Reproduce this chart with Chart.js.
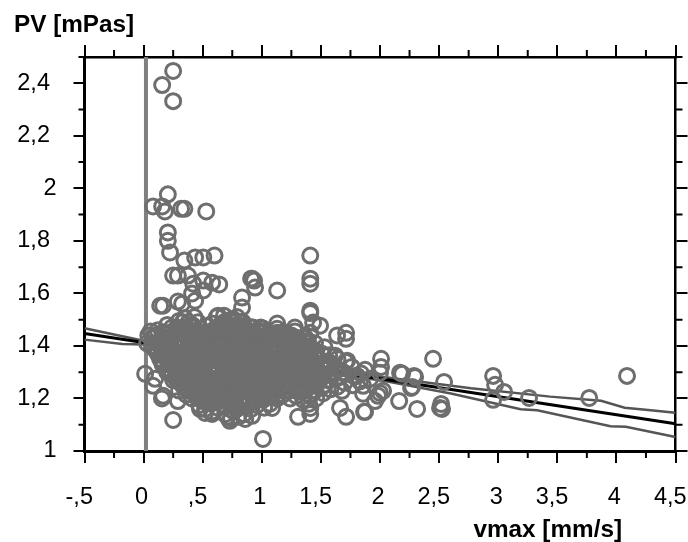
<!DOCTYPE html>
<html>
<head>
<meta charset="utf-8">
<style>
html, body { margin: 0; padding: 0; background: #fff; }
canvas { display: block; }
</style>
<script src="https://cdn.jsdelivr.net/npm/chart.js@4"></script>
</head>
<body>
<canvas id="chart-pv" width="688" height="542"></canvas>
<script>
// eixos
const xTickLabels = ['-,5', '0', ',5', '1', '1,5', '2', '2,5', '3', '3,5', '4', '4,5'];
const yTickLabels = ['1', '1,2', '1,4', '1,6', '1,8', '2', '2,2', '2,4'];
const xMinorTicks = [-0.25, 0.25, 0.75, 1.25, 1.75, 2.25, 2.75, 3.25, 3.75, 4.25];
const yMinorTicks = [1.1, 1.3, 1.5, 1.7, 1.9, 2.1, 2.3, 2.5];

// pontos soltos, fora da nuvem
const soltosVmax = [
    .25, .157, .25, .205, .08, .157, .18, .317, .345, .53,
    .205, .205, .224, .345, .436, .505, .6, 1.41,
    .25, .29, .376, .42, .505, .58, .64, .505, .41, .436, .14, .165, .29, .326,
    .833, .91, .935, .943, .63, .833,
    1.41, 1.41, 1.41, 1.41, 1.13, .917, 1.713, 1.713, 1.637, 1.13, 1.01, 1.28, 1.493, 1.434,
    .013, .097, .08, .165, .155, .25, .29, .477, .52, .58, .73, .86, .71,
    1.01, 1.307, 1.41, 1.41, 1.662, 1.713, 1.865, 1.087, .918,
    2.449, 2.009, 2.009, 2.0, 2.17, 2.187, 2.288, 2.263, 2.542, 1.874, 1.857, 1.857, 1.874,
    1.984, 2.0, 2.026, 1.958, 2.162, 2.314, 2.517, 2.508, 2.525, 1.62, 1.722, 1.679, 1.806, 1.916,
    2.957, 2.974, 3.05, 2.957, 3.261, 3.77, 4.09, 2.297, 2.272
];
const soltosPV = [
    2.447, 2.393, 2.332, 1.977, 1.931, 1.931, 1.912, 1.922, 1.922, 1.912,
    1.832, 1.8, 1.756, 1.725, 1.737, 1.737, 1.744, 1.744,
    1.668, 1.668, 1.668, 1.637, 1.649, 1.641, 1.634, 1.611, 1.6, 1.572, 1.553, 1.553, 1.569, 1.561,
    1.584, 1.656, 1.649, 1.622, 1.515, 1.546,
    1.656, 1.637, 1.534, 1.525, 1.611, 1.656, 1.45, 1.427, 1.44, 1.485, 1.466, 1.47, 1.477, 1.489,
    1.294, 1.275, 1.248, 1.21, 1.2, 1.118, 1.19, 1.16, 1.145, 1.141, 1.115, 1.122, 1.13,
    1.046, 1.13, 1.141, 1.164, 1.164, 1.13, 1.149, 1.164, 1.134,
    1.351, 1.351, 1.32, 1.298, 1.298, 1.294, 1.286, 1.24, 1.263, 1.309, 1.248, 1.218, 1.149,
    1.21, 1.221, 1.229, 1.19, 1.19, 1.16, 1.179, 1.164, 1.16, 1.363, 1.344, 1.229, 1.286, 1.275,
    1.286, 1.252, 1.225, 1.195, 1.202, 1.202, 1.286, 1.282, 1.244
];

// nuvem densa (estimada, uma linha por faixa de vmax)
const nuvemVmax = [
    .03, .04,
    .07, .08, .06,
    .11, .12, .10, .12,
    .16, .15, .17, .15, .16,
    .20, .21, .19, .20, .21, .19, .20,
    .25, .24, .26, .25, .24, .26, .25, .24,
    .30, .31, .29, .30, .31, .29, .30, .31, .29, .30,
    .36, .35, .37, .36, .35, .37, .36, .35, .37, .36, .35,
    .41, .42, .40, .41, .43, .40, .42, .41, .40, .42, .41, .43,
    .47, .46, .48, .47, .46, .48, .47, .49, .46, .47, .48, .46,
    .52, .53, .51, .52, .54, .51, .53, .52, .51, .53, .52, .54,
    .58, .57, .59, .58, .57, .59, .58, .57, .59, .58, .57, .59, .58,
    .63, .64, .62, .63, .65, .62, .64, .63, .62, .64, .63, .65, .62,
    .69, .68, .70, .69, .68, .70, .69, .68, .70, .69, .68, .70, .69, .68,
    .74, .75, .73, .74, .76, .73, .75, .74, .73, .75, .74, .76, .73, .74,
    .80, .79, .81, .80, .79, .81, .80, .79, .81, .80, .79, .81, .80, .79,
    .85, .86, .84, .85, .87, .84, .86, .85, .84, .86, .85, .87, .84,
    .91, .90, .92, .91, .90, .92, .91, .90, .92, .91, .90, .92,
    .96, .97, .95, .96, .98, .95, .97, .96, .95, .97, .96,
    1.02, 1.01, 1.03, 1.02, 1.01, 1.03, 1.02, 1.01, 1.03, 1.02, 1.01,
    1.07, 1.08, 1.06, 1.07, 1.09, 1.06, 1.08, 1.07, 1.06, 1.08,
    1.13, 1.12, 1.14, 1.13, 1.12, 1.14, 1.13, 1.12, 1.14, 1.13,
    1.18, 1.19, 1.17, 1.18, 1.20, 1.17, 1.19, 1.18, 1.17,
    1.24, 1.23, 1.25, 1.24, 1.23, 1.25, 1.24, 1.23, 1.25,
    1.29, 1.30, 1.28, 1.29, 1.31, 1.28, 1.30, 1.29, 1.28,
    1.35, 1.34, 1.36, 1.35, 1.34, 1.36, 1.35, 1.34, 1.36,
    1.40, 1.41, 1.39, 1.40, 1.42, 1.39, 1.41, 1.40, 1.39, 1.41,
    1.46, 1.45, 1.47, 1.46, 1.45, 1.47, 1.46, 1.45,
    1.52, 1.53, 1.51, 1.52, 1.54, 1.51, 1.53,
    1.58, 1.57, 1.59, 1.58, 1.57,
    1.64, 1.65, 1.63, 1.64,
    1.70, 1.69, 1.71,
    1.77, 1.78, 1.76,
    1.83, 1.84
];
const nuvemPV = [
    1.41, 1.44,
    1.40, 1.43, 1.455,
    1.385, 1.41, 1.44, 1.46,
    1.33, 1.365, 1.39, 1.42, 1.45,
    1.30, 1.33, 1.36, 1.385, 1.42, 1.445, 1.48,
    1.27, 1.295, 1.325, 1.355, 1.38, 1.41, 1.44, 1.47,
    1.23, 1.26, 1.285, 1.315, 1.345, 1.37, 1.40, 1.43, 1.46, 1.495,
    1.215, 1.245, 1.27, 1.30, 1.33, 1.355, 1.385, 1.415, 1.445, 1.47, 1.505,
    1.20, 1.225, 1.255, 1.285, 1.31, 1.34, 1.37, 1.40, 1.425, 1.455, 1.48, 1.51,
    1.175, 1.205, 1.235, 1.265, 1.295, 1.325, 1.35, 1.38, 1.41, 1.44, 1.465, 1.49,
    1.16, 1.19, 1.22, 1.25, 1.275, 1.305, 1.335, 1.36, 1.39, 1.42, 1.45, 1.475,
    1.15, 1.18, 1.205, 1.235, 1.265, 1.29, 1.32, 1.35, 1.375, 1.405, 1.435, 1.46, 1.485,
    1.165, 1.195, 1.22, 1.25, 1.28, 1.31, 1.34, 1.365, 1.395, 1.425, 1.45, 1.48, 1.51,
    1.14, 1.17, 1.20, 1.23, 1.26, 1.285, 1.315, 1.345, 1.37, 1.40, 1.43, 1.46, 1.49, 1.515,
    1.125, 1.155, 1.185, 1.215, 1.245, 1.27, 1.30, 1.33, 1.36, 1.385, 1.415, 1.445, 1.475, 1.50,
    1.13, 1.16, 1.19, 1.22, 1.25, 1.28, 1.31, 1.34, 1.365, 1.395, 1.425, 1.455, 1.48, 1.51,
    1.14, 1.17, 1.20, 1.23, 1.26, 1.29, 1.315, 1.345, 1.375, 1.405, 1.435, 1.46, 1.49,
    1.16, 1.19, 1.215, 1.245, 1.275, 1.30, 1.33, 1.36, 1.39, 1.415, 1.445, 1.47,
    1.175, 1.205, 1.235, 1.265, 1.29, 1.32, 1.35, 1.38, 1.41, 1.435, 1.46,
    1.165, 1.195, 1.225, 1.255, 1.285, 1.31, 1.34, 1.37, 1.40, 1.425, 1.455,
    1.18, 1.21, 1.24, 1.27, 1.30, 1.33, 1.355, 1.385, 1.415, 1.445,
    1.20, 1.23, 1.26, 1.29, 1.315, 1.345, 1.375, 1.405, 1.435, 1.465,
    1.215, 1.245, 1.275, 1.305, 1.335, 1.365, 1.395, 1.425, 1.45,
    1.20, 1.23, 1.26, 1.29, 1.32, 1.35, 1.38, 1.41, 1.44,
    1.21, 1.24, 1.27, 1.30, 1.33, 1.36, 1.39, 1.42, 1.455,
    1.195, 1.225, 1.255, 1.285, 1.315, 1.345, 1.375, 1.405, 1.435,
    1.18, 1.21, 1.24, 1.27, 1.30, 1.33, 1.36, 1.39, 1.42, 1.45,
    1.20, 1.23, 1.26, 1.29, 1.32, 1.35, 1.38, 1.41,
    1.22, 1.25, 1.28, 1.31, 1.34, 1.37, 1.395,
    1.235, 1.27, 1.30, 1.335, 1.365,
    1.245, 1.28, 1.315, 1.35,
    1.26, 1.30, 1.34,
    1.25, 1.285, 1.32,
    1.265, 1.295
];

// miolo da nuvem, onde os círculos se fundem: um valor de PV por linha de vmax
const mioloPV = [1.19, 1.21, 1.23, 1.25, 1.27, 1.29, 1.31, 1.33, 1.35, 1.37, 1.39, 1.41, 1.43, 1.45, 1.47, 1.49];
const mioloVmax = [
    [.50, .56, .63, .70, .77, .84, .90],
    [.44, .50, .57, .64, .71, .78, .85, .92, .99, 1.06, 1.13],
    [.38, .45, .52, .59, .66, .73, .80, .87, .94, 1.01, 1.08, 1.15, 1.22, 1.29, 1.36, 1.43],
    [.33, .40, .47, .54, .61, .68, .75, .82, .89, .96, 1.03, 1.10, 1.17, 1.24, 1.31, 1.38, 1.45, 1.52],
    [.28, .36, .43, .50, .57, .65, .72, .79, .86, .93, 1.00, 1.07, 1.14, 1.21, 1.28, 1.35, 1.42, 1.49, 1.56],
    [.24, .31, .39, .46, .53, .60, .67, .74, .81, .88, .95, 1.02, 1.09, 1.16, 1.23, 1.30, 1.37, 1.44, 1.51, 1.58],
    [.20, .27, .34, .42, .49, .56, .63, .70, .77, .84, .91, .98, 1.05, 1.12, 1.19, 1.26, 1.33, 1.40, 1.47, 1.54],
    [.17, .24, .31, .38, .45, .52, .59, .66, .73, .80, .87, .94, 1.01, 1.08, 1.15, 1.22, 1.29, 1.36, 1.43, 1.50, 1.57],
    [.14, .21, .28, .35, .42, .49, .56, .63, .70, .77, .84, .91, .98, 1.05, 1.12, 1.19, 1.26, 1.33, 1.40, 1.47],
    [.12, .19, .26, .33, .40, .47, .54, .61, .68, .75, .82, .89, .96, 1.03, 1.10, 1.17, 1.24, 1.31, 1.38, 1.45],
    [.09, .16, .23, .30, .37, .44, .51, .58, .65, .72, .79, .86, .93, 1.00, 1.07, 1.14, 1.21, 1.28, 1.35, 1.42],
    [.13, .20, .27, .34, .41, .48, .55, .62, .69, .76, .83, .90, .97, 1.04, 1.11, 1.18, 1.25, 1.32, 1.39],
    [.17, .24, .31, .38, .45, .52, .59, .66, .73, .80, .87, .94, 1.01, 1.08, 1.15, 1.22, 1.30, 1.37],
    [.22, .29, .36, .43, .50, .57, .64, .71, .78, .85, .92, .99, 1.06, 1.13, 1.20],
    [.28, .35, .42, .64, .71, .78, .85, .92, .99],
    [.33, .38, .68, .75, .82]
];

// reta de regressão e limites
const retaVmax = [-0.5, 4.5];
const retaPV = [1.447, 1.104];
const superiorVmax = [-0.5, 0, .5, 1, 1.5, 2.03, 2.77, 3.44, 3.87, 4.07, 4.29, 4.5];
const superiorPV = [1.467, 1.42, 1.39, 1.355, 1.32, 1.282, 1.239, 1.207, 1.191, 1.165, 1.155, 1.146];
const inferiorVmax = [-0.5, -0.18, 0, .5, 1, 1.5, 2.03, 2.6, 3.19, 3.33, 3.95, 4.08, 4.5];
const inferiorPV = [1.424, 1.407, 1.405, 1.37, 1.335, 1.30, 1.267, 1.219, 1.159, 1.155, 1.094, 1.092, 1.053];

// linha vertical em zero
const zeroVmax = [0.02, 0.02];
const zeroPV = [1, 2.5];

function pares(xs, ys){
    return xs.map(function(v, i){ return {x: v, y: ys[i]}; });
}

function paresMiolo(){
    const saida = [];
    for(let i = 0; i < mioloPV.length; ++i){
        for(let j = 0; j < mioloVmax[i].length; ++j){
            saida.push({x: mioloVmax[i][j], y: mioloPV[i]});
        }
    }
    return saida;
}

// só a vírgula leva espaço no fim, como no original
function rotulo(texto){
    return texto.includes(',') ? texto + ' ' : texto;
}

// tamanho fixo do eixo, sem a folga automática dos rótulos
function fixarLargura(valor){
    return function(scale){
        scale.width = valor;
        scale.paddingTop = 0;
        scale.paddingBottom = 0;
    };
}

function fixarAltura(valor){
    return function(scale){
        scale.height = valor;
        scale.paddingLeft = 0;
        scale.paddingRight = 0;
    };
}

// ticks menores e títulos dos eixos
const extras = {
    id: 'extras',
    afterDraw: function(chart){
        const ctx = chart.ctx;
        const a = chart.chartArea;
        const sx = chart.scales.x;
        const sy = chart.scales.y;
        ctx.save();
        ctx.strokeStyle = '#000';
        ctx.lineWidth = 2;
        ctx.beginPath();
        xMinorTicks.forEach(function(v){
            const p = sx.getPixelForValue(v);
            ctx.moveTo(p, a.bottom); ctx.lineTo(p, a.bottom + 7);
            ctx.moveTo(p, a.top); ctx.lineTo(p, a.top - 7);
        });
        yMinorTicks.forEach(function(v){
            const p = sy.getPixelForValue(v);
            ctx.moveTo(a.left, p); ctx.lineTo(a.left - 6, p);
            ctx.moveTo(a.right, p); ctx.lineTo(a.right + 7, p);
        });
        ctx.stroke();
        ctx.fillStyle = '#000';
        ctx.font = 'bold 24.3px "Liberation Sans"';
        ctx.textBaseline = 'alphabetic';
        ctx.textAlign = 'left';
        ctx.fillText('PV [mPas]', 14, 32);
        ctx.textAlign = 'right';
        ctx.fillText('vmax [mm/s]', 622, 537);
        ctx.restore();
    }
};

const fonteEixo = {family: '"Liberation Sans"', size: 23.5};

var chartPV = new Chart(document.getElementById('chart-pv').getContext('2d'), {
    type: 'scatter',
    data: {
        datasets: [
            {
                data: pares(soltosVmax.concat(nuvemVmax), soltosPV.concat(nuvemPV)).concat(paresMiolo()),
                borderColor: '#6e6e6e',
                backgroundColor: 'transparent',
                pointRadius: 7.5,
                pointBorderWidth: 3,
                order: 1
            },
            {
                data: pares(retaVmax, retaPV),
                showLine: true, borderColor: '#000', borderWidth: 3, pointRadius: 0, order: 2
            },
            {
                data: pares(superiorVmax, superiorPV),
                showLine: true, borderColor: '#555', borderWidth: 2.5, pointRadius: 0, order: 3
            },
            {
                data: pares(inferiorVmax, inferiorPV),
                showLine: true, borderColor: '#555', borderWidth: 2.5, pointRadius: 0, order: 3
            },
            {
                data: pares(zeroVmax, zeroPV),
                showLine: true, borderColor: '#808080', borderWidth: 4, pointRadius: 0, order: 4
            }
        ]
    },
    options: {
        responsive: false,
        animation: false,
        devicePixelRatio: 1,
        layout: {padding: 0},
        plugins: {
            legend: {display: false},
            title: {display: false},
            tooltip: {enabled: false}
        },
        scales: {
            x: {
                type: 'linear',
                position: 'bottom',
                min: -0.5,
                max: 4.5,
                afterFit: fixarAltura(91),
                border: {color: '#000', width: 3},
                grid: {drawOnChartArea: false, color: '#000', lineWidth: 2, tickLength: 12},
                ticks: {
                    stepSize: 0.5,
                    autoSkip: false,
                    maxRotation: 0,
                    padding: 20,
                    labelOffset: -2,
                    color: '#000',
                    font: fonteEixo,
                    callback: function(v, i){ return rotulo(xTickLabels[i]); }
                }
            },
            xTopo: {
                type: 'linear',
                position: 'top',
                min: -0.5,
                max: 4.5,
                afterFit: fixarAltura(57),
                border: {color: '#000', width: 2.5},
                grid: {drawOnChartArea: false, color: '#000', lineWidth: 2, tickLength: 12},
                ticks: {stepSize: 0.5, autoSkip: false, maxRotation: 0, padding: 0, callback: function(){ return ''; }}
            },
            y: {
                type: 'linear',
                position: 'left',
                min: 1,
                max: 2.5,
                afterFit: fixarLargura(84.5),
                border: {color: '#000', width: 3},
                grid: {drawOnChartArea: false, color: '#000', lineWidth: 2, tickLength: 11},
                ticks: {
                    stepSize: 0.2,
                    includeBounds: false,
                    autoSkip: false,
                    padding: 17,
                    color: '#000',
                    font: fonteEixo,
                    callback: function(v, i){ return rotulo(yTickLabels[i]); }
                }
            },
            yDireita: {
                type: 'linear',
                position: 'right',
                min: 1,
                max: 2.5,
                afterFit: fixarLargura(12.5),
                border: {color: '#000', width: 2.5},
                grid: {drawOnChartArea: false, color: '#000', lineWidth: 2, tickLength: 12},
                ticks: {stepSize: 0.2, includeBounds: false, autoSkip: false, padding: 0, callback: function(){ return ''; }}
            }
        }
    },
    plugins: [extras]
});
</script>
</body>
</html>
